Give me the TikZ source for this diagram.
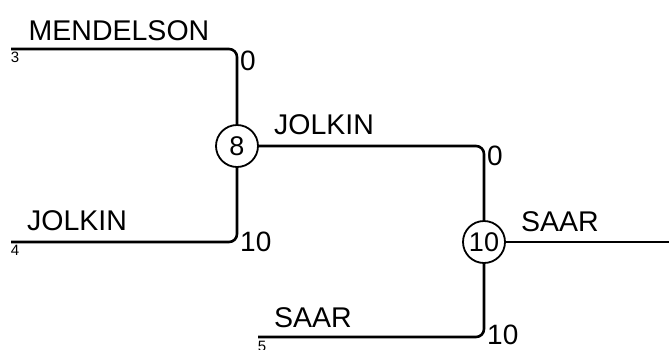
\documentclass[tikz,border=0pt]{standalone}
\usepackage{fontspec}
\setmainfont{Liberation Sans}
\tikzset{
  line/.style={line width=2.6pt,rounded corners=8pt},
  score/.style={circle,draw,line width=1.8pt,minimum size=42pt,inner sep=0pt,font=\fontsize{27}{27}\selectfont},
  player/.style={font=\fontsize{28.5}{28.5}\selectfont},
  pts/.style={anchor=west,inner sep=0pt,font=\fontsize{28}{28}\selectfont},
  seed/.style={inner sep=0pt,font=\fontsize{15}{15}\selectfont}
}
\begin{document}
\begin{tikzpicture}[x=1pt,y=-1pt]
\useasboundingbox (0,0) rectangle (669,349);
\node[score] (s8) at (237,146) {8};
\node[score] (s10) at (484,242) {10};
\coordinate (m3) at (11,49);
\coordinate (m4) at (11,242);
\coordinate (m5) at (258,337);
\coordinate (out) at (669,242);

\draw[line] (m3) -| (s8.north);
\draw[line] (m4) -| (s8.south);
\draw[line] (s8.east) -| (s10.north);
\draw[line] (m5) -| (s10.south);
\draw[line] (s10.east) -- (out);

\node[player] (n1) at (119,31) {MENDELSON};
\node[player] (n2) at (77,221) {JOLKIN};
\node[player] (n3) at (324,125) {JOLKIN};
\node[player] (n4) at (313,318) {SAAR};
\node[player] (n5) at (560,222) {SAAR};

\node[pts] (p1) at (240,61) {0};
\node[pts] (p2) at (240,242) {10};
\node[pts] (p3) at (487,156) {0};
\node[pts] (p4) at (487,335) {10};

\node[seed] (k3) at (15,57) {3};
\node[seed] (k4) at (15,250) {4};
\node[seed] (k5) at (262,346) {5};
\end{tikzpicture}
\end{document}
